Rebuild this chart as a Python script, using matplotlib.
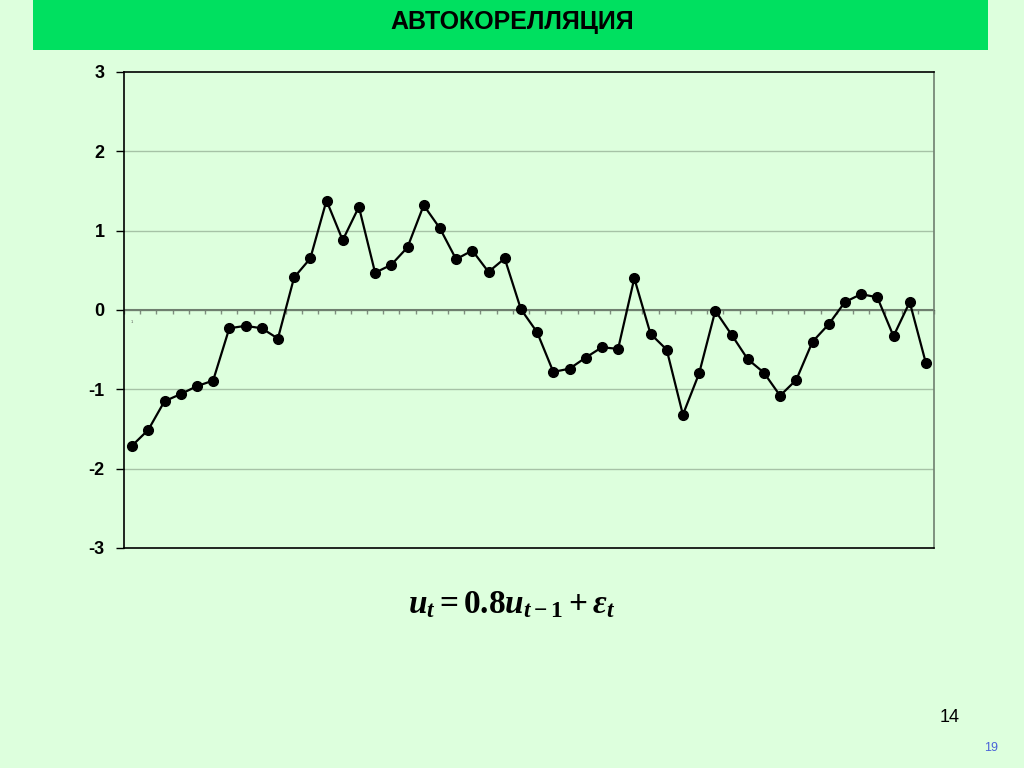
import numpy as np
import matplotlib.pyplot as plt
from matplotlib.patches import Rectangle

t = np.arange(1, 51)
u = [-1.71, -1.51, -1.15, -1.06, -0.96, -0.89, -0.23, -0.20, -0.23, -0.36,
     0.41, 0.65, 1.38, 0.88, 1.30, 0.47, 0.57, 0.79, 1.32, 1.03,
     0.64, 0.75, 0.48, 0.65, 0.01, -0.28, -0.78, -0.74, -0.60, -0.47,
     -0.49, 0.40, -0.30, -0.50, -1.32, -0.80, -0.01, -0.31, -0.62, -0.79,
     -1.08, -0.88, -0.40, -0.18, 0.10, 0.20, 0.16, -0.33, 0.10, -0.67]
yticks = [-3, -2, -1, 0, 1, 2, 3]

bg = "#ddffdd"
plt.rcParams["font.family"] = ["Liberation Sans", "DejaVu Sans"]
plt.rcParams["mathtext.fontset"] = "custom"
plt.rcParams["mathtext.it"] = "Liberation Serif:italic:bold"
plt.rcParams["mathtext.rm"] = "Liberation Serif:bold"
plt.rcParams["mathtext.bf"] = "Liberation Serif:bold"

fig = plt.figure(figsize=(10.24, 7.68), dpi=100, facecolor=bg)

# green title banner
fig.patches.append(Rectangle((33 / 1024, 1 - 50 / 768), 955 / 1024, 50 / 768,
                             transform=fig.transFigure, facecolor="#00e060",
                             edgecolor="none", zorder=0))
fig.text(0.5, 1 - 22 / 768, "АВТОКОРЕЛЛЯЦИЯ", ha="center", va="center",
         fontsize=18, fontweight="bold", color="black")

ax = fig.add_axes([124 / 1024, 1 - 548 / 768, 810 / 1024, 476 / 768])
ax.set_facecolor(bg)
ax.set_xlim(0, 50)
ax.set_ylim(-3, 3)

ax.plot(t - 0.5, u, color="black", lw=1.6, marker="o", ms=7,
        markerfacecolor="black", zorder=3)

# gridlines and zero line
for y in yticks:
    if y in (-3, 3):
        continue
    if y == 0:
        ax.axhline(0, color="#6f7f6f", lw=1.5, zorder=2)
    else:
        ax.axhline(y, color="#a6c2a6", lw=1, zorder=1)

ax.set_yticks(yticks)
ax.set_yticklabels([str(v) for v in yticks], fontsize=13, fontweight="bold")
ax.tick_params(axis="y", direction="out", length=6, width=1, pad=8)
ax.set_xticks([])

# category axis sits on the zero line, ticks pointing down
sec = ax.secondary_xaxis(0.5)
sec.set_xticks(np.arange(0, 51))
sec.xaxis.set_ticks_position("bottom")
sec.tick_params(direction="out", length=3, width=1, color="#7f8f7f",
                labelbottom=False, labeltop=False, bottom=True, top=False)
sec.set_xticklabels([])
sec.spines["bottom"].set_color("#6f7f6f")
ax.text(0.5, -0.12, "1", fontsize=3, ha="center", va="top", color="#555555")

for side in ("left", "bottom", "top"):
    ax.spines[side].set_color("black")
    ax.spines[side].set_linewidth(1.2)
ax.spines["right"].set_color("#6f7f6f")
ax.spines["right"].set_linewidth(1.2)

fig.text(0.5, 1 - 605 / 768, r"$u_t = \mathrm{0.8}u_{t-1} + \varepsilon_t$",
         ha="center", va="center", fontsize=24)

fig.text(950 / 1024, 1 - 718 / 768, "14", ha="center", va="center",
         fontsize=13, color="black")
fig.text(991 / 1024, 1 - 748 / 768, "19", ha="center", va="center",
         fontsize=9, color="#4a62d8")

fig.savefig("out.png", dpi=100, facecolor=bg)
